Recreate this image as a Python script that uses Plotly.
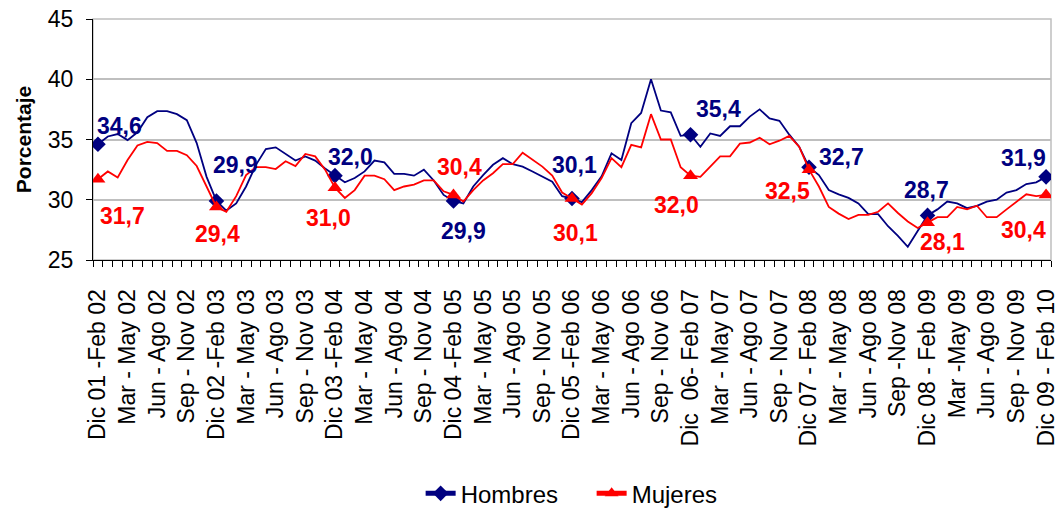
import plotly.graph_objects as go

tick_labels = [
    "Dic 01 -Feb 02", "Mar - May 02", "Jun - Ago 02", "Sep - Nov 02",
    "Dic 02 -Feb 03", "Mar - May 03", "Jun - Ago 03", "Sep - Nov 03",
    "Dic 03 -Feb 04", "Mar - May 04", "Jun - Ago 04", "Sep - Nov 04",
    "Dic 04 -Feb 05", "Mar - May 05", "Jun - Ago 05", "Sep - Nov 05",
    "Dic 05 -Feb 06", "Mar - May 06", "Jun - Ago 06", "Sep - Nov 06",
    "Dic  06- Feb 07", "Mar - May 07", "Jun - Ago 07", "Sep - Nov 07",
    "Dic 07 - Feb 08", "Mar - May 08", "Jun - Ago 08", "Sep -Nov 08",
    "Dic 08 - Feb 09", "Mar -May 09", "Jun - Ago 09", "Sep - Nov 09",
    "Dic 09 - Feb 10",
]

hombres = [
    34.6, 35.25, 35.45, 34.95, 35.6, 36.85, 37.35, 37.35, 37.1, 36.6, 34.7, 31.9,
    29.9, 29.1, 29.7, 31.1, 32.9, 34.2, 34.35, 33.8, 33.25, 33.6, 33.25, 32.6,
    32.0, 31.45, 31.8, 32.35, 33.25, 33.1, 32.15, 32.15, 32.0, 32.5, 31.6, 30.4,
    29.9, 29.7, 31.1, 32.05, 32.9, 33.45, 32.95, 32.75, 32.35, 31.9, 31.5, 30.3,
    30.1, 29.8, 30.8, 31.95, 33.85, 33.3, 36.35, 37.2, 40.0, 37.4, 37.25, 35.3,
    35.4, 34.4, 35.5, 35.3, 36.1, 36.1, 36.9, 37.5, 36.75, 36.55, 35.4, 34.4,
    32.7, 32.05, 30.8, 30.45, 30.15, 29.7, 28.8, 28.8, 27.8, 27.0, 26.1, 27.4,
    28.7, 29.2, 29.85, 29.7, 29.3, 29.5, 29.85, 30.0, 30.6, 30.8, 31.3, 31.45,
    31.9,
]

mujeres = [
    31.7, 32.35, 31.85, 33.3, 34.5, 34.8, 34.7, 34.05, 34.05, 33.7, 32.8, 31.1,
    29.4, 29.0, 30.3, 32.05, 32.7, 32.7, 32.55, 33.2, 32.8, 33.8, 33.6, 32.5,
    31.0, 30.15, 30.8, 32.0, 32.0, 31.7, 30.8, 31.1, 31.25, 31.6, 31.6, 30.7,
    30.4, 29.85, 30.8, 31.6, 32.2, 32.95, 32.95, 33.9, 33.35, 32.75, 32.0, 30.6,
    30.1, 29.6, 30.55, 31.8, 33.45, 32.7, 34.55, 34.35, 37.1, 35.0, 35.0, 32.7,
    32.0, 31.9, 32.75, 33.6, 33.6, 34.65, 34.75, 35.15, 34.6, 34.9, 35.3, 34.4,
    32.5, 31.1, 29.4, 28.85, 28.4, 28.75, 28.75, 29.0, 29.7, 28.9, 28.2, 27.65,
    28.1, 28.55, 28.55, 29.4, 29.2, 29.5, 28.55, 28.55, 29.2, 29.85, 30.45, 30.3,
    30.4,
]

x_vals = list(range(len(hombres)))
label_idx = list(range(0, len(hombres), 12))
tick_idx = list(range(0, len(hombres), 3))

# label offsets in pixels (dx, dy-up)
h_off = [(22, 18), (19, 36), (16, 19), (10, -30), (2, 34), (28, 26), (32, 10), (-1, 25), (-23, 19)]
m_off = [(25, -37), (1, -27), (-6, -30), (6, 28), (3, -34), (-14, -29), (-22, -21), (15, -19), (-23, -35)]

BLUE = "#000080"
RED = "#FF0000"
FONT = "Liberation Sans, Arial, sans-serif"

fig = go.Figure()
fig.add_trace(go.Scatter(
    x=x_vals, y=hombres, name="Hombres", mode="lines+markers",
    line=dict(color=BLUE, width=1.8),
    marker=dict(symbol="diamond", color=BLUE, opacity=1, line=dict(width=0),
                size=[12 if i in label_idx else 0 for i in x_vals]),
))
fig.add_trace(go.Scatter(
    x=x_vals, y=mujeres, name="Mujeres", mode="lines+markers",
    line=dict(color=RED, width=1.8),
    marker=dict(symbol="triangle-up", color=RED, opacity=1, line=dict(width=0),
                size=[13 if i in label_idx else 0 for i in x_vals]),
))

def fmt(v):
    return f"{v:.1f}".replace(".", ",")

for k, i in enumerate(label_idx):
    dx, dy = h_off[k]
    fig.add_annotation(x=i, y=hombres[i], text=fmt(hombres[i]), showarrow=False,
                       xshift=dx, yshift=dy,
                       font=dict(family=FONT, size=23, color=BLUE, weight="bold"))
    dx, dy = m_off[k]
    fig.add_annotation(x=i, y=mujeres[i], text=fmt(mujeres[i]), showarrow=False,
                       xshift=dx, yshift=dy,
                       font=dict(family=FONT, size=23, color=RED, weight="bold"))

fig.add_shape(type="rect", xref="paper", yref="paper", x0=0, x1=1, y0=0, y1=1,
              line=dict(color="#BFBFBF", width=1.5), layer="below")

fig.update_layout(
    width=1059, height=508,
    margin=dict(l=93, r=8, t=19, b=248, autoexpand=False),
    paper_bgcolor="white", plot_bgcolor="white",
    font=dict(family=FONT, color="black"),
    showlegend=True,
    legend=dict(orientation="h", x=0.342, xanchor="left", y=-0.97, yanchor="middle",
                font=dict(size=24, family=FONT), itemsizing="constant",
                entrywidth=126, entrywidthmode="pixels",
                bgcolor="rgba(0,0,0,0)"),
    xaxis=dict(
        range=[-0.5, len(hombres) - 0.5], automargin=False,
        tickmode="array", tickvals=tick_idx, ticktext=tick_labels,
        tickangle=-90, ticks="", ticklabelstandoff=19,
        tickfont=dict(size=23, family=FONT, color="black"),
        showgrid=False, zeroline=False,
        showline=True, linecolor="black", linewidth=1,
        minor=dict(ticks="outside", tick0=-0.5, dtick=1, ticklen=6,
                   tickcolor="black", tickwidth=1, showgrid=False),
    ),
    yaxis=dict(
        range=[25, 45], dtick=5, tick0=25, automargin=False,
        ticks="outside", ticklen=6, tickcolor="black", ticklabelstandoff=8,
        tickfont=dict(size=23, family=FONT, color="black"),
        showgrid=True, gridcolor="#BFBFBF", gridwidth=1.5,
        zeroline=False, showline=True, linecolor="black", linewidth=1,
        title=dict(text="<b>Porcentaje</b>", standoff=10,
                   font=dict(size=21, family=FONT, color="black")),
    ),
)

fig.write_html("out.html", config={"displayModeBar": False},
               post_script="document.body.style.margin='0px';")
